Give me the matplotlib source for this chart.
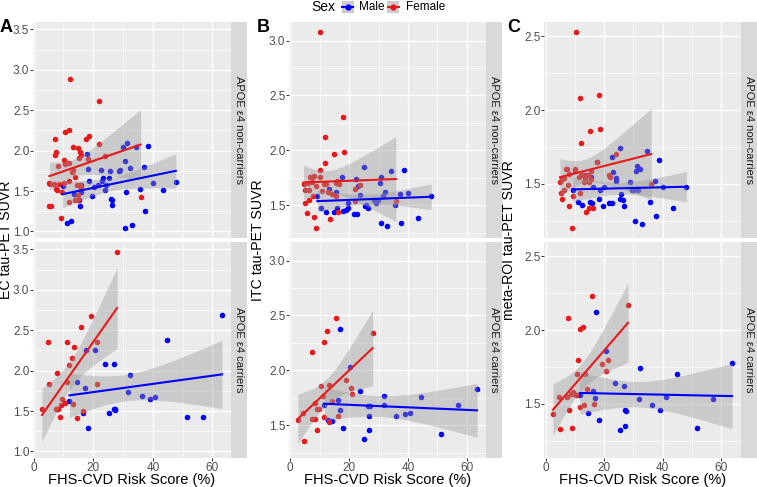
import numpy as np
import matplotlib
matplotlib.use("Agg")
import matplotlib.pyplot as plt
from matplotlib.patches import Rectangle
from matplotlib.lines import Line2D
from matplotlib.ticker import MultipleLocator, FormatStrFormatter

plt.rcParams['font.family'] = ['Liberation Sans', 'DejaVu Sans']

# ---------------- data ----------------
sex_levels = ["Male", "Female"]
sex_colors = ["#0000FF", "#E8191C"]
strip_labels = ["APOE \u03b54 non-carriers", "APOE \u03b54 carriers"]
panel_letters = ["A", "B", "C"]
y_titles = ["EC tau-PET SUVR", "ITC tau-PET SUVR", "meta-ROI tau-PET SUVR"]
x_title = "FHS-CVD Risk Score (%)"

# EC, non-carriers
ec_nc_m_x = [9.7, 11.1, 12.4, 13.4, 15.2, 15.7, 15.9, 16.0, 17.8, 18.3, 18.7, 19.6, 20.2, 21.7, 22.5, 22.9, 23.4, 24.0, 24.3, 25.2, 25.5, 26.0, 26.4, 26.3, 28.7, 29.0, 29.9, 30.5, 30.6, 31.0, 31.3, 32.2, 33.0, 34.5, 35.6, 37.1, 37.5, 38.5, 39.9, 43.4, 47.7]
ec_nc_m_y = [1.56, 1.11, 1.13, 1.46, 1.39, 1.31, 1.49, 1.58, 1.96, 1.77, 1.63, 1.44, 1.55, 1.58, 1.76, 1.63, 1.66, 1.51, 1.58, 1.66, 1.75, 1.40, 1.39, 1.33, 1.75, 1.76, 2.04, 1.87, 1.04, 1.49, 2.10, 1.78, 1.08, 2.05, 1.53, 1.80, 1.25, 2.06, 1.60, 1.51, 1.61]
ec_nc_f_x = [12.2, 21.8, 7.3, 10.6, 12.0, 18.5, 17.5, 7.5, 7.2, 13.2, 14.9, 15.7, 16.0, 15.3, 22.0, 10.3, 10.5, 12.0, 8.1, 13.1, 12.9, 5.3, 5.6, 6.9, 8.4, 7.5, 8.0, 9.5, 5.3, 5.7, 9.1, 11.7, 14.6, 15.6, 14.8, 15.0, 14.0, 16.0, 35.9, 11.7, 14.0, 10.3, 23.8, 18.3]
ec_nc_f_y = [2.88, 2.62, 2.14, 2.23, 2.25, 2.18, 2.14, 1.98, 1.94, 2.05, 2.03, 1.98, 1.94, 1.91, 2.08, 1.88, 1.84, 1.85, 1.81, 1.76, 1.74, 1.60, 1.59, 1.59, 1.59, 1.52, 1.51, 1.49, 1.32, 1.32, 1.17, 1.36, 1.58, 1.58, 1.45, 1.39, 1.39, 1.54, 1.43, 1.62, 1.67, 1.60, 1.93, 1.89]
# EC, carriers
ec_c_m_x = [12.0, 14.6, 16.4, 17.1, 17.6, 18.1, 20.6, 24.1, 25.2, 26.8, 27.1, 27.3, 27.4, 31.8, 32.2, 36.2, 39.1, 40.8, 44.7, 51.3, 56.9, 63.2]
ec_c_m_y = [1.62, 1.86, 1.48, 1.78, 2.26, 1.29, 2.25, 2.08, 1.47, 2.08, 1.53, 1.51, 1.53, 1.73, 1.94, 1.68, 1.65, 1.67, 2.38, 1.42, 1.42, 2.69]
ec_c_f_x = [28.0, 19.2, 15.8, 4.7, 11.3, 13.6, 21.3, 12.8, 11.9, 7.7, 5.2, 11.1, 21.1, 9.5, 10.5, 13.1, 9.1, 8.3, 7.5, 7.9, 2.8, 8.7, 16.5, 14.5]
ec_c_f_y = [3.47, 2.67, 2.54, 2.36, 2.35, 2.29, 2.36, 2.16, 2.07, 1.97, 1.84, 1.86, 1.84, 1.65, 1.60, 1.59, 1.57, 1.53, 1.52, 1.53, 1.52, 1.43, 1.50, 1.41]

# ITC, non-carriers
itc_nc_m_x = [9.2, 10.5, 12.1, 13.3, 15.0, 15.4, 15.9, 17.5, 18.0, 18.9, 19.5, 19.7, 21.8, 22.6, 22.2, 22.9, 23.8, 25.0, 25.4, 25.8, 26.3, 28.6, 29.0, 29.8, 30.5, 30.8, 30.8, 31.5, 32.2, 32.9, 34.3, 35.5, 37.3, 37.6, 38.5, 39.9, 43.4, 47.9]
itc_nc_m_y = [1.58, 1.47, 1.44, 1.65, 1.44, 1.62, 1.47, 1.76, 1.45, 1.46, 1.47, 1.52, 1.42, 1.42, 1.74, 1.67, 1.59, 1.85, 1.49, 1.50, 1.47, 1.55, 1.52, 1.55, 1.70, 1.76, 1.34, 1.58, 1.62, 1.31, 1.81, 1.50, 1.60, 1.34, 1.82, 1.61, 1.38, 1.58]
itc_nc_f_x = [10.1, 17.9, 11.7, 11.9, 15.0, 18.3, 10.0, 6.8, 7.5, 8.1, 10.2, 4.5, 6.0, 7.4, 8.6, 11.4, 12.3, 15.8, 15.4, 16.5, 5.1, 6.5, 10.8, 12.7, 14.3, 15.4, 7.7, 5.1, 6.3, 5.6, 7.9, 13.6, 8.7, 16.2, 21.9, 23.8, 35.9, 21.9]
itc_nc_f_y = [3.08, 2.30, 2.12, 1.88, 1.97, 1.98, 1.82, 1.76, 1.76, 1.77, 1.76, 1.69, 1.70, 1.71, 1.67, 1.69, 1.69, 1.72, 1.70, 1.69, 1.64, 1.64, 1.63, 1.62, 1.60, 1.58, 1.58, 1.52, 1.55, 1.43, 1.39, 1.37, 1.29, 1.44, 1.54, 1.68, 1.54, 1.65]
# ITC, carriers
itc_c_m_x = [11.6, 12.8, 14.2, 16.1, 16.8, 17.0, 17.9, 20.3, 23.8, 25.2, 26.4, 26.9, 27.1, 26.9, 31.7, 32.0, 36.0, 39.0, 40.8, 44.6, 51.3, 57.1, 63.5]
itc_c_m_y = [1.68, 1.55, 1.54, 1.73, 1.64, 2.38, 1.47, 2.03, 1.81, 1.37, 1.67, 1.58, 1.67, 1.46, 1.68, 1.77, 1.58, 1.60, 1.61, 1.76, 1.42, 1.68, 1.83]
itc_c_f_x = [15.6, 12.6, 11.3, 28.0, 7.4, 18.9, 10.4, 13.3, 20.7, 21.1, 11.1, 14.2, 8.5, 9.1, 9.8, 11.6, 7.4, 8.3, 2.6, 16.3, 13.0, 4.4, 9.0, 4.6]
itc_c_f_y = [2.48, 2.36, 2.26, 2.34, 2.17, 1.91, 1.86, 1.87, 1.84, 1.78, 1.77, 1.72, 1.70, 1.65, 1.65, 1.57, 1.56, 1.56, 1.55, 1.58, 1.53, 1.61, 1.46, 1.36]

# meta-ROI, non-carriers
meta_nc_m_x = [9.3, 11.0, 12.4, 13.5, 15.2, 15.6, 15.8, 16.1, 17.7, 18.2, 18.6, 19.5, 19.9, 21.8, 22.6, 22.8, 23.2, 24.1, 24.2, 25.3, 25.3, 25.9, 26.5, 26.7, 28.9, 29.5, 30.4, 30.7, 30.8, 31.3, 31.7, 32.4, 33.1, 34.7, 35.8, 37.3, 37.8, 38.8, 40.2, 43.6, 48.2]
meta_nc_m_y = [1.46, 1.38, 1.36, 1.56, 1.38, 1.55, 1.37, 1.48, 1.65, 1.40, 1.46, 1.35, 1.48, 1.37, 1.68, 1.37, 1.58, 1.54, 1.52, 1.74, 1.40, 1.43, 1.39, 1.35, 1.51, 1.46, 1.46, 1.25, 1.59, 1.62, 1.46, 1.60, 1.23, 1.72, 1.38, 1.52, 1.28, 1.66, 1.48, 1.34, 1.48]
meta_nc_f_x = [10.3, 11.8, 18.1, 18.5, 15.2, 12.0, 24.1, 17.6, 6.9, 7.2, 10.0, 10.1, 8.1, 15.6, 12.1, 12.9, 14.5, 21.8, 21.9, 5.6, 4.9, 6.4, 11.3, 13.4, 15.4, 14.8, 13.1, 7.7, 6.4, 5.1, 11.6, 5.5, 9.4, 8.1, 15.0, 16.1, 13.9, 8.9, 36.1]
meta_nc_f_y = [2.53, 2.08, 2.10, 1.87, 1.86, 1.78, 1.70, 1.65, 1.60, 1.60, 1.60, 1.59, 1.57, 1.59, 1.56, 1.56, 1.56, 1.56, 1.55, 1.53, 1.51, 1.54, 1.545, 1.53, 1.53, 1.51, 1.51, 1.49, 1.46, 1.44, 1.44, 1.40, 1.42, 1.35, 1.34, 1.34, 1.31, 1.20, 1.50]
# meta-ROI, carriers
meta_c_m_x = [11.7, 14.4, 16.1, 17.0, 17.4, 18.1, 20.7, 23.9, 25.3, 26.8, 27.0, 27.2, 27.5, 31.9, 32.3, 36.5, 39.3, 41.1, 45.1, 51.8, 57.4, 63.8]
meta_c_m_y = [1.56, 1.44, 1.59, 1.54, 2.12, 1.39, 1.86, 1.64, 1.32, 1.62, 1.35, 1.46, 1.45, 1.53, 1.74, 1.49, 1.46, 1.55, 1.70, 1.34, 1.53, 1.78]
meta_c_f_x = [15.8, 28.2, 7.6, 12.7, 11.7, 11.1, 21.3, 19.2, 20.8, 10.6, 13.3, 14.3, 9.3, 9.8, 10.3, 8.7, 4.4, 7.3, 2.5, 8.1, 11.7, 13.1, 16.6, 4.9, 9.0]
meta_c_f_y = [2.23, 2.17, 2.08, 2.02, 2.01, 1.80, 1.80, 1.77, 1.72, 1.70, 1.70, 1.60, 1.58, 1.57, 1.56, 1.565, 1.55, 1.55, 1.43, 1.46, 1.48, 1.49, 1.50, 1.33, 1.34]

columns = [
    [[(ec_nc_m_x, ec_nc_m_y), (ec_nc_f_x, ec_nc_f_y)],
     [(ec_c_m_x, ec_c_m_y), (ec_c_f_x, ec_c_f_y)]],
    [[(itc_nc_m_x, itc_nc_m_y), (itc_nc_f_x, itc_nc_f_y)],
     [(itc_c_m_x, itc_c_m_y), (itc_c_f_x, itc_c_f_y)]],
    [[(meta_nc_m_x, meta_nc_m_y), (meta_nc_f_x, meta_nc_f_y)],
     [(meta_c_m_x, meta_c_m_y), (meta_c_f_x, meta_c_f_y)]],
]

# ---------------- helpers ----------------
def t975(df):
    z = 1.959963985
    g1 = (z**3 + z) / 4
    g2 = (5*z**5 + 16*z**3 + 3*z) / 96
    g3 = (3*z**7 + 19*z**5 + 17*z**3 - 15*z) / 384
    g4 = (79*z**9 + 776*z**7 + 1482*z**5 - 1920*z**3 - 945*z) / 92160
    return z + g1/df + g2/df**2 + g3/df**3 + g4/df**4

def lm_band(x, y, n=80):
    x = np.asarray(x, float); y = np.asarray(y, float)
    X = np.column_stack([np.ones_like(x), x])
    beta = np.linalg.lstsq(X, y, rcond=None)[0]
    res = y - X @ beta
    df = len(x) - 2
    s2 = res @ res / df
    XtXi = np.linalg.inv(X.T @ X)
    xs = np.linspace(x.min(), x.max(), n)
    Xs = np.column_stack([np.ones_like(xs), xs])
    fit = Xs @ beta
    se = np.sqrt(np.einsum('ij,jk,ik->i', Xs, XtXi, Xs) * s2)
    t = t975(df)
    return xs, fit, fit - t * se, fit + t * se

W, H = 757, 487
fig = plt.figure(figsize=(W / 100, H / 100), dpi=100)

def fx(px):
    return px / W

def fy(py):
    return 1 - py / H

col_px = [(33, 231), (289, 486), (544, 741)]
row_px = [(22, 238), (242, 458)]
strip_w = 16
panel_bg = "#EBEBEB"
ribbon_col = "#999999"

for ci, col in enumerate(columns):
    allx, ally = [], []
    fits = []
    for ri, row in enumerate(col):
        rf = []
        for (x, y) in row:
            b = lm_band(x, y)
            rf.append(b)
            allx += list(x)
            ally += list(y) + list(b[2]) + list(b[3])
        fits.append(rf)
    xmin, xmax = min(allx), max(allx)
    ymin, ymax = min(ally), max(ally)
    xl = (xmin - 0.05 * (xmax - xmin), xmax + 0.05 * (xmax - xmin))
    yl = (ymin - 0.05 * (ymax - ymin), ymax + 0.05 * (ymax - ymin))

    L, R = col_px[ci]
    for ri, row in enumerate(col):
        T, B = row_px[ri]
        ax = fig.add_axes([fx(L), fy(B), fx(R) - fx(L), (B - T) / H])
        ax.set_facecolor(panel_bg)
        for s in ax.spines.values():
            s.set_visible(False)
        ax.set_xlim(xl)
        ax.set_ylim(yl)
        ax.xaxis.set_major_locator(MultipleLocator(20))
        ax.xaxis.set_minor_locator(MultipleLocator(10))
        ax.yaxis.set_major_locator(MultipleLocator(0.5))
        ax.yaxis.set_minor_locator(MultipleLocator(0.25))
        ax.yaxis.set_major_formatter(FormatStrFormatter('%.1f'))
        ax.xaxis.set_major_formatter(FormatStrFormatter('%d'))
        ax.grid(which='major', color='white', lw=1.0)
        ax.grid(which='minor', color='white', lw=0.5)
        ax.set_axisbelow(True)
        ax.tick_params(which='minor', length=0)
        ax.tick_params(which='major', length=2.0, width=0.7, color='#333333',
                       labelsize=8.5, labelcolor='#4D4D4D', pad=0.6)
        if ri == 0:
            ax.tick_params(axis='x', which='both', length=0, labelbottom=False)
        for gi, (x, y) in enumerate(row):
            ax.scatter(x, y, s=16, color=sex_colors[gi], linewidths=0, zorder=2)
        for gi, (x, y) in enumerate(row):
            xs, fit, lo, hi = fits[ri][gi]
            ax.fill_between(xs, lo, hi, color=ribbon_col, alpha=0.4, lw=0, zorder=3)
            ax.plot(xs, fit, color=sex_colors[gi], lw=1.5, zorder=4)
        sax = fig.add_axes([fx(R), fy(B), strip_w / W, (B - T) / H])
        sax.set_facecolor("#D9D9D9")
        sax.set_xticks([]); sax.set_yticks([])
        for s in sax.spines.values():
            s.set_visible(False)
        sax.text(0.5, 0.5, strip_labels[ri], rotation=270, ha='center', va='center',
                 fontsize=8, color='#1A1A1A', transform=sax.transAxes)

    fig.text(fx((L + R) / 2), fy(484), x_title, ha='center', va='baseline',
             fontsize=10.5, color='black')

ylab_x = [6, 258, 509]
for ci in range(3):
    fig.text(fx(ylab_x[ci]), fy(240), y_titles[ci], rotation=90, ha='center', va='center',
             fontsize=10.2, color='black')
letter_x = [6, 263, 514]
for ci in range(3):
    fig.text(fx(letter_x[ci]), fy(27), panel_letters[ci], ha='center', va='center',
             fontsize=13, fontweight='bold', color='black')

# legend
fig.text(fx(311), fy(7), "Sex", ha='left', va='center', fontsize=10, color='black')
key_x = [341.5, 387]
lab_x = [359, 406]
for gi in range(2):
    kx = key_x[gi]
    fig.add_artist(Rectangle((fx(kx), fy(13)), 12 / W, 12 / H, transform=fig.transFigure,
                             facecolor="#CDCDCD", edgecolor='none'))
    fig.add_artist(Line2D([fx(kx + 0.5), fx(kx + 11.5)], [fy(7), fy(7)], transform=fig.transFigure,
                          color=sex_colors[gi], lw=1.5))
    fig.add_artist(Line2D([fx(kx + 6)], [fy(7)], transform=fig.transFigure, marker='o',
                          markersize=3.5, color=sex_colors[gi], lw=0))
    fig.text(fx(lab_x[gi]), fy(7), sex_levels[gi], ha='left', va='center', fontsize=8.5, color='black')

fig.savefig("out.png", dpi=100)
